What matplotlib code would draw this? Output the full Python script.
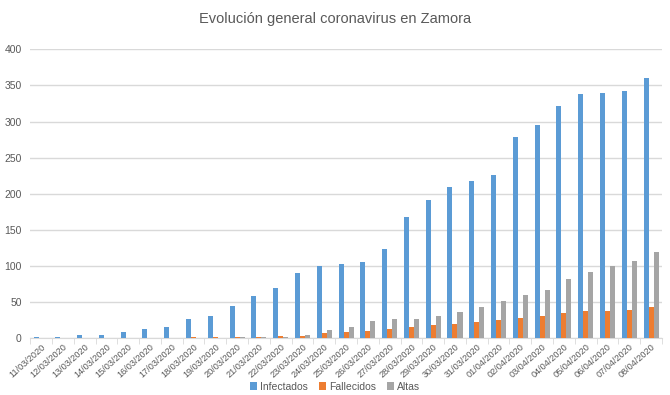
import numpy as np
import matplotlib
matplotlib.use("Agg")
import matplotlib.pyplot as plt

fechas = ["11/03/2020", "12/03/2020", "13/03/2020", "14/03/2020", "15/03/2020",
          "16/03/2020", "17/03/2020", "18/03/2020", "19/03/2020", "20/03/2020",
          "21/03/2020", "22/03/2020", "23/03/2020", "24/03/2020", "25/03/2020",
          "26/03/2020", "27/03/2020", "28/03/2020", "29/03/2020", "30/03/2020",
          "31/03/2020", "01/04/2020", "02/04/2020", "03/04/2020", "04/04/2020",
          "05/04/2020", "06/04/2020", "07/04/2020", "08/04/2020"]
infectados = [1, 2, 5, 5, 8, 12, 16, 26, 31, 45, 59, 70, 90, 100, 103,
              106, 124, 168, 192, 209, 217, 226, 278, 295, 322, 338, 340, 342, 360]
fallecidos = [0, 0, 0, 0, 0, 0, 0, 1, 1, 1, 2, 3, 3, 7, 8,
              10, 12, 16, 18, 20, 23, 25, 28, 30, 35, 37, 38, 39, 43]
altas = [0, 0, 0, 0, 0, 0, 0, 0, 0, 1, 1, 2, 4, 11, 16,
         24, 27, 27, 30, 36, 43, 51, 60, 67, 82, 92, 100, 107, 119]

plt.rcParams['font.family'] = ['Liberation Sans', 'DejaVu Sans']
gris_texto = "#595959"

fig = plt.figure(figsize=(6.7, 3.95), dpi=100)
ax = fig.add_axes([0.045, 0.144, 0.943, 0.731])

x = np.arange(len(fechas))
w = 0.23
ax.bar(x - w, infectados, w, color="#5B9BD5", label="Infectados", zorder=3)
ax.bar(x, fallecidos, w, color="#ED7D31", label="Fallecidos", zorder=3)
ax.bar(x + w, altas, w, color="#A5A5A5", label="Altas", zorder=3)

ax.set_xlim(-0.5, len(fechas) - 0.5)
ax.set_ylim(0, 400)
ax.set_yticks(range(0, 401, 50))
ax.grid(axis="y", color="#D9D9D9", linewidth=1, zorder=0)
for s in ["top", "right", "left"]:
    ax.spines[s].set_visible(False)
ax.spines["bottom"].set_color("#D9D9D9")
ax.tick_params(axis="y", length=0, labelsize=7.5, labelcolor=gris_texto, pad=6)
ax.set_xticks(x)
ax.set_xticklabels(fechas, rotation=42, ha="right", rotation_mode="anchor",
                   fontsize=6.6, color=gris_texto)
ax.tick_params(axis="x", length=0, pad=3)
ax.set_xticks(np.arange(-0.5, len(fechas), 1), minor=True)
ax.tick_params(axis="x", which="minor", length=4, color="#D9D9D9")

fig.suptitle("Evolución general coronavirus en Zamora", y=0.97,
             fontsize=10.5, color=gris_texto)
fig.legend(loc="lower center", bbox_to_anchor=(0.5, -0.015), ncol=3,
           frameon=False, fontsize=7.5, handlelength=0.7, handleheight=0.7,
           columnspacing=1.0, handletextpad=0.3, labelcolor=gris_texto)

fig.savefig("out.png", dpi=100)
